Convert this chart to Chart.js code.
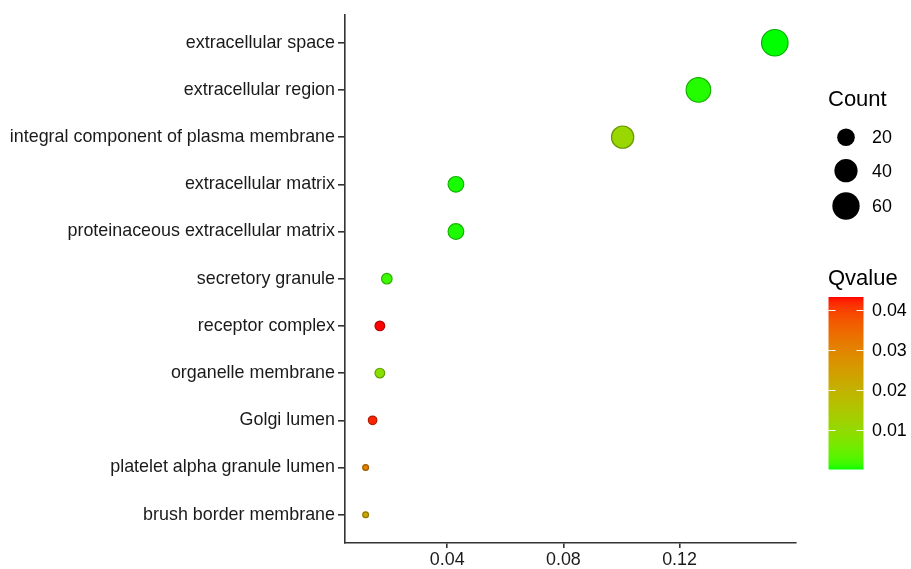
<!DOCTYPE html>
<html>
<head>
<meta charset="utf-8">
<script src="https://cdn.jsdelivr.net/npm/chart.js@4.4.1/dist/chart.umd.min.js"></script>
<style>
  html, body { margin: 0; padding: 0; background: #ffffff; }
  #wrap { width: 911px; height: 569px; position: relative; }
</style>
</head>
<body>
<div id="wrap"><canvas id="c" width="911" height="569"></canvas></div>
<script>
// GO cellular-component enrichment, top to bottom
const terms = [
  'extracellular space',
  'extracellular region',
  'integral component of plasma membrane',
  'extracellular matrix',
  'proteinaceous extracellular matrix',
  'secretory granule',
  'receptor complex',
  'organelle membrane',
  'Golgi lumen',
  'platelet alpha granule lumen',
  'brush border membrane'
];
const geneRatio = [0.1528, 0.1265, 0.1004, 0.0430, 0.0430, 0.0192, 0.0168, 0.0168, 0.0143, 0.0119, 0.0119];
const counts    = [62, 52, 41, 18, 18, 8, 7, 7, 6, 5, 5];
const qvalues   = [0.00002, 0.0006, 0.0108, 0.0003, 0.0004, 0.0015, 0.0432, 0.0085, 0.0420, 0.0305, 0.0225];

const xTickValues = [0.04, 0.08, 0.12];
const countBreaks = [20, 40, 60];
const qBreaks = [0.01, 0.02, 0.03, 0.04];

const FONT = '"Liberation Sans", Arial, Helvetica, sans-serif';
const TEXT_SIZE = 17.9;
const TITLE_SIZE = 22;

// ---- colour: green -> red interpolated in CIE Lab ----
function toLin(c) { c /= 255; return c <= 0.04045 ? c / 12.92 : Math.pow((c + 0.055) / 1.055, 2.4); }
function fromLin(c) {
  const v = c <= 0.0031308 ? 12.92 * c : 1.055 * Math.pow(c, 1 / 2.4) - 0.055;
  return Math.round(Math.max(0, Math.min(1, v)) * 255);
}
const WN = [0.95047, 1.0, 1.08883];
function rgbToLab(rgb) {
  const [r, g, b] = rgb.map(toLin);
  const X = (0.4124 * r + 0.3576 * g + 0.1805 * b) / WN[0];
  const Y = (0.2126 * r + 0.7152 * g + 0.0722 * b) / WN[1];
  const Z = (0.0193 * r + 0.1192 * g + 0.9505 * b) / WN[2];
  const f = t => t > 0.008856 ? Math.cbrt(t) : 7.787 * t + 16 / 116;
  const fx = f(X), fy = f(Y), fz = f(Z);
  return [116 * fy - 16, 500 * (fx - fy), 200 * (fy - fz)];
}
function labToRgb([L, a, b]) {
  const fy = (L + 16) / 116, fx = fy + a / 500, fz = fy - b / 200;
  const finv = t => t * t * t > 0.008856 ? t * t * t : (t - 16 / 116) / 7.787;
  const X = finv(fx) * WN[0], Y = finv(fy) * WN[1], Z = finv(fz) * WN[2];
  const r = 3.2406 * X - 1.5372 * Y - 0.4986 * Z;
  const g = -0.9689 * X + 1.8758 * Y + 0.0415 * Z;
  const bb = 0.0557 * X - 0.2040 * Y + 1.0570 * Z;
  return [fromLin(r), fromLin(g), fromLin(bb)];
}
const LAB_LOW = rgbToLab([0, 255, 0]);
const LAB_HIGH = rgbToLab([255, 0, 0]);
const qMin = Math.min(...qvalues);
const qMax = Math.max(...qvalues);
function qRgbAt(t) {
  t = Math.max(0, Math.min(1, t));
  return labToRgb(LAB_LOW.map((v, i) => v + (LAB_HIGH[i] - v) * t));
}
const qRgb = q => qRgbAt((q - qMin) / (qMax - qMin));
const rgbStr = (c, k = 1) => `rgb(${Math.round(c[0] * k)},${Math.round(c[1] * k)},${Math.round(c[2] * k)})`;

// ---- size: area-proportional diameter between the data limits ----
const cMin = Math.min(...counts), cMax = Math.max(...counts);
function diameter(c) {
  const s = Math.sqrt(Math.max(0, (c - cMin) / (cMax - cMin)));
  return 7 + 20.7 * s;
}

// ---- legends for size and colour ----
const legendPlugin = {
  id: 'sideLegends',
  afterDraw(chart) {
    const ctx = chart.ctx;
    ctx.save();
    ctx.textBaseline = 'middle';
    ctx.textAlign = 'left';
    ctx.fillStyle = '#000';

    // Count
    ctx.font = `${TITLE_SIZE}px ${FONT}`;
    ctx.fillText('Count', 828, 100);
    const sizeRows = [137.3, 170.7, 206];
    ctx.font = `${TEXT_SIZE}px ${FONT}`;
    countBreaks.forEach((c, i) => {
      ctx.beginPath();
      ctx.arc(846, sizeRows[i], diameter(c) / 2, 0, Math.PI * 2);
      ctx.fillStyle = '#000';
      ctx.fill();
      ctx.fillText(String(c), 872, sizeRows[i] + 1);
    });

    // Qvalue colour bar
    ctx.font = `${TITLE_SIZE}px ${FONT}`;
    ctx.fillText('Qvalue', 828, 279);
    const bx = 828.5, bw = 35, top = 297, bottom = 469.5;
    const h = bottom - top;
    const grad = ctx.createLinearGradient(0, bottom, 0, top);
    const nstop = 60;
    for (let k = 0; k <= nstop; k++) {
      grad.addColorStop(k / nstop, rgbStr(qRgbAt(k / nstop)));
    }
    ctx.fillStyle = grad;
    ctx.fillRect(bx, top, bw, h);
    ctx.strokeStyle = '#ffffff';
    ctx.lineWidth = 1;
    ctx.font = `${TEXT_SIZE}px ${FONT}`;
    qBreaks.forEach(q => {
      const y = Math.round(bottom - h * (q - qMin) / (qMax - qMin)) + 0.5;
      ctx.beginPath();
      ctx.moveTo(bx, y); ctx.lineTo(bx + 7, y);
      ctx.moveTo(bx + bw - 7, y); ctx.lineTo(bx + bw, y);
      ctx.stroke();
      ctx.fillStyle = '#000';
      ctx.fillText(q.toFixed(2), 872, y + 1);
    });
    ctx.restore();
  }
};

const ctx = document.getElementById('c').getContext('2d');
new Chart(ctx, {
  type: 'scatter',
  data: {
    datasets: [{
      data: terms.map((t, i) => ({ x: geneRatio[i], y: i })),
      pointRadius: c => (diameter(counts[c.dataIndex]) - 1.2) / 2,
      pointHoverRadius: c => (diameter(counts[c.dataIndex]) - 1.2) / 2,
      backgroundColor: c => rgbStr(qRgb(qvalues[c.dataIndex])),
      borderColor: c => rgbStr(qRgb(qvalues[c.dataIndex]), 0.7),
      borderWidth: 1.2
    }]
  },
  options: {
    responsive: false,
    animation: false,
    events: [],
    layout: { padding: { top: 13, right: 115, bottom: 0, left: 0 } },
    plugins: { legend: { display: false }, tooltip: { enabled: false } },
    scales: {
      x: {
        type: 'linear',
        min: 0.0048,
        max: 0.1601,
        afterBuildTicks: s => { s.ticks = xTickValues.map(v => ({ value: v })); },
        afterFit: s => { s.height = 26; },
        grid: { drawOnChartArea: false, drawTicks: true, tickLength: 5, color: '#333333', lineWidth: 1.6 },
        border: { display: true, color: '#333333', width: 1.6 },
        ticks: {
          padding: 1,
          color: '#1a1a1a',
          font: { family: FONT, size: TEXT_SIZE },
          callback: v => v.toFixed(2)
        }
      },
      y: {
        type: 'linear',
        reverse: true,
        min: -0.6,
        max: terms.length - 1 + 0.6,
        afterBuildTicks: s => { s.ticks = terms.map((t, i) => ({ value: i })); },
        afterFit: s => { s.width = 345; },
        grid: { drawOnChartArea: false, drawTicks: true, tickLength: 7, color: '#333333', lineWidth: 1.6 },
        border: { display: true, color: '#333333', width: 1.6 },
        ticks: {
          padding: 3,
          color: '#1a1a1a',
          font: { family: FONT, size: TEXT_SIZE },
          callback: v => terms[v]
        }
      }
    }
  },
  plugins: [legendPlugin]
});
</script>
</body>
</html>
